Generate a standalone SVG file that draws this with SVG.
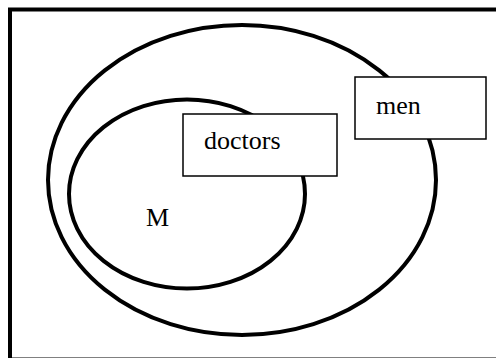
<svg xmlns="http://www.w3.org/2000/svg" width="496" height="358" viewBox="0 0 496 358">
<style>
.set{fill:none;stroke:#000;stroke-width:4}
.box{fill:#fff;stroke:#000;stroke-width:1.5}
text{font-family:'Liberation Serif','DejaVu Serif',serif;font-size:26px;fill:#000}
</style>
<rect x="0" y="0" width="496" height="358" fill="#fff"/>
<g id="frame"><rect x="10" y="9.5" width="500" height="350" fill="none" stroke="#000" stroke-width="4"/></g>
<g id="men-set"><ellipse class="set" cx="242" cy="180" rx="194" ry="155"/></g>
<g id="doctors-set"><ellipse class="set" cx="187" cy="194" rx="118" ry="94.5"/></g>
<g id="connectors"></g>
<g id="doctors"><rect class="box" x="183" y="114" width="154" height="62"/><text x="204" y="149" font-family="Liberation Serif, serif">doctors</text></g>
<g id="men"><rect class="box" x="355" y="77" width="131" height="62"/><text x="376" y="114" font-family="Liberation Serif, serif">men</text></g>
<g id="M"><text x="146" y="226" font-family="Liberation Serif, serif">M</text></g>
</svg>
